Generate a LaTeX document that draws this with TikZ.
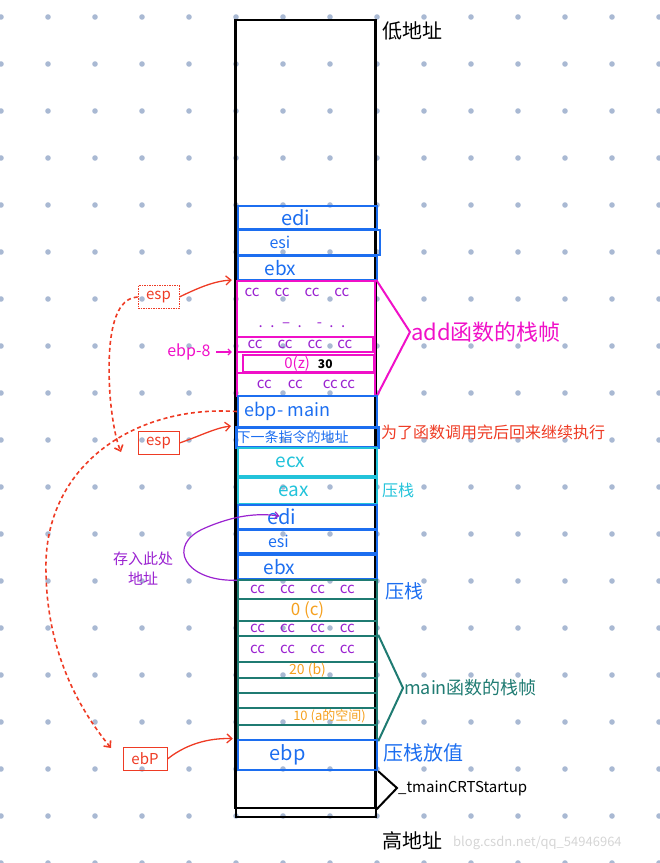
\documentclass[tikz,border=0pt]{standalone}
\usepackage{fontspec}
\setmainfont{Noto Sans CJK SC}
\usetikzlibrary{arrows.meta, calc}
\definecolor{dotgrid}{HTML}{A9B9D3}
\definecolor{regblue}{HTML}{1C6EF0}
\definecolor{addpink}{HTML}{F010C8}
\definecolor{ccpurple}{HTML}{9A22D0}
\definecolor{pushcyan}{HTML}{22C3DA}
\definecolor{mainteal}{HTML}{1F7B72}
\definecolor{valorange}{HTML}{F5A01E}
\definecolor{ptrred}{HTML}{EE3B24}
\definecolor{wmgray}{HTML}{D5D5D5}

\newcommand{\ccrow}{cc\hspace{15pt}cc\hspace{15pt}cc\hspace{15pt}cc\hspace*{10pt}}

\begin{document}
\begin{tikzpicture}[x=1pt, y=-1pt,
    fs/.style={font=\fontsize{#1}{#1}\selectfont},
    cell/.style={draw=regblue, text=regblue, line width=2.4pt, inner sep=0pt,
                 minimum width=139pt, fs=19, execute at end node={\hspace*{24pt}}},
    addrow/.style={draw=addpink, text=ccpurple, line width=2.4pt, inner sep=0pt, fs=15},
    mainrow/.style={draw=mainteal, text=ccpurple, line width=2.4pt, inner sep=0pt,
                    minimum width=139pt, fs=15},
    ptrbox/.style={draw=ptrred, text=ptrred, line width=0.9pt, inner sep=0pt,
                   minimum width=41pt, minimum height=23pt, fs=15},
    ptrarrow/.style={ptrred, line width=1.3pt, -{Straight Barb[length=5pt, width=9pt]},
                     shorten >=4pt},
    ptrdash/.style={ptrarrow, line width=1.6pt, dash pattern=on 4pt off 3pt},
    note/.style={anchor=west, inner sep=1pt}]
  \useasboundingbox (0,0) rectangle (660,863);

  % dot grid
  \foreach \i in {0,...,14}
    \foreach \j in {0,...,18}
      \fill[dotgrid] (1+47*\i, 17+47*\j) circle (2.8pt);

  % stack outline
  \node[draw, line width=2.4pt, inner sep=0pt, minimum width=140pt, minimum height=788pt] (stack) at (305.5,414) {};
  \node[draw, line width=2pt, inner sep=0pt, minimum width=140pt, minimum height=9pt] (base) at (305.5,812.5) {};
  \node[note, fs=20] (lowaddr) at (381,31) {低地址};
  \node[note, fs=20] (highaddr) at (381,841) {高地址};
  \node[note, fs=13, text=wmgray] (wmark) at (452,843) {blog.csdn.net/qq\_54946964};

  % saved registers of add
  \node[cell, minimum height=23pt, fs=20] (edi1) at (307.5,217.5) {edi};
  \node[cell, minimum height=25pt, minimum width=142pt, fs=16, execute at end node={\hspace*{34pt}}] (esi1) at (309,242.5) {esi};
  \node[cell, minimum height=24pt, execute at end node={\hspace*{30pt}}] (ebx1) at (307.5,268) {ebx};

  % add frame
  \node[addrow, minimum width=138pt, minimum height=115pt] (addfr) at (306,338.5) {};
  \node[text=ccpurple, fs=15] (addcc) at (302,292) {\ccrow};
  \node[text=ccpurple, fs=15] (adddots) at (302,325) {.\enspace.\enspace--\enspace.\enspace\enspace-\enspace.\enspace.};
  \node[addrow, minimum width=136pt, minimum height=15pt] (ebpeight) at (305,344.5) {\ccrow};
  \node[addrow, minimum width=131pt, minimum height=17pt] (zrow) at (308.5,363.5)
    {{\color{addpink}0(z)}\hspace{8pt}{\color{black}\bfseries\fontsize{12}{12}\selectfont 30}};
  \node[addrow, minimum width=138pt, minimum height=23pt] (addcc3) at (306,384.5)
    {cc\hspace{16pt}cc\hspace{20pt}cc\,cc};
  \node[note, fs=22, text=addpink] (addlbl) at (410,332) {add函数的栈帧};
  \draw[addpink, line width=2pt] (addfr.north east) -- (addlbl.west) -- (addfr.south east);
  \node[fs=16, text=addpink, anchor=east] (ebp8lbl) at (214,352) {ebp-8};
  \draw[addpink, line width=1.2pt, -{Straight Barb[length=3pt, width=6pt]}, shorten >=4pt, shorten <=2pt]
    (ebp8lbl.east) -- (ebp8lbl.east -| ebpeight.west);

  % return info
  \node[cell, minimum height=31pt, fs=18, execute at end node={\hspace*{16pt}}] (ebpmain) at (307.5,411.5) {ebp- main};
  \node[cell, minimum height=20pt, line width=3pt, fs=14, execute at end node={\hspace*{6pt}}] (nextins) at (307.5,437) {下一条指令的地址};
  \node[note, fs=16, text=ptrred] (whylbl) at (380,432) {为了函数调用完后回来继续执行};

  % pushed ecx eax
  \node[cell, draw=pushcyan, text=pushcyan, minimum height=28pt, execute at end node={\hspace*{10pt}}] (ecx) at (307.5,462) {ecx};
  \node[cell, draw=pushcyan, text=pushcyan, minimum height=26pt, execute at end node={\hspace*{4pt}}] (eax) at (307.5,491) {eax};
  \node[note, fs=16, text=pushcyan] (pushcx) at (381,490) {压栈};

  % saved registers of main
  \node[cell, minimum height=24pt, fs=20, execute at end node={\hspace*{28pt}}] (edi2) at (307.5,517) {edi};
  \node[cell, minimum height=23pt, fs=16, execute at end node={\hspace*{34pt}}] (esi2) at (307.5,541.5) {esi};
  \node[cell, minimum height=24pt, execute at end node={\hspace*{32pt}}] (ebx2) at (307.5,567) {ebx};
  \node[note, fs=19, text=regblue] (pushreg) at (384,591) {压栈};

  % main frame
  \node[mainrow, minimum height=19pt] (mrow1) at (307.5,589.5) {\ccrow};
  \node[mainrow, minimum height=22pt, text=valorange, fs=17] (mrow2) at (307.5,610) {0 (c)};
  \node[mainrow, minimum height=15pt] (mrow3) at (307.5,628.5) {\ccrow};
  \node[mainrow, minimum height=26pt] (mrow4) at (307.5,649) {\ccrow};
  \node[mainrow, minimum height=16pt, text=valorange, fs=14] (mrow5) at (307.5,670) {20 (b)};
  \node[mainrow, minimum height=15pt] (mrow6) at (307.5,685.5) {};
  \node[mainrow, minimum height=15pt] (mrow7) at (307.5,700.5) {};
  \node[mainrow, minimum height=17pt, text=valorange, fs=13] (mrow8) at (307.5,716.5) {\hspace*{44pt}10 (a的空间)};
  \node[mainrow, minimum height=15pt] (mrow9) at (307.5,732.5) {};
  \node[note, fs=18, text=mainteal] (mainlbl) at (403,688) {main函数的栈帧};
  \draw[mainteal, line width=2pt] (mrow4.north east) -- (mainlbl.west) -- (mrow9.south east);

  % frame pointer slot
  \node[cell, minimum height=30pt, fs=20, execute at end node={\hspace*{16pt}}] (ebp) at (307.5,755) {ebp};
  \node[note, fs=20, text=regblue] (pushval) at (382,753) {压栈放值};
  \node[note, fs=15] (crtlbl) at (397,788) {\_tmainCRTStartup};
  \draw[line width=2pt] (ebp.south east) -- (crtlbl.west) -- (stack.south east);

  % pointers
  \node[ptrbox, dash pattern=on 1.5pt off 1pt, line width=0.7pt] (esp1) at (158.5,297) {esp};
  \node[ptrbox] (esp2) at (158.5,443) {esp};
  \node[ptrbox, minimum width=44pt] (ebpbox) at (145,759) {ebP};
  \coordinate (espdrop) at (121,452);
  \coordinate (ebpdrop) at (111,748);
  \draw[ptrarrow] (esp1.east) .. controls (200,287) and (215,281) .. (addfr.north west);
  \draw[ptrarrow] (esp2.east) .. controls (200,436) and (215,428) .. (nextins.north west);
  \draw[ptrarrow] (ebpbox.east) .. controls (190,741) and (215,738) .. (ebp.north west);
  \draw[ptrdash, shorten >=0pt] (esp1.west) .. controls (110,298) and (107,350) .. (110,395)
    .. controls (112,420) and (116,440) .. (espdrop);
  \draw[ptrdash, shorten >=0pt] (ebpmain.west) .. controls (140,405) and (50,460) .. (46,560)
    .. controls (44,650) and (80,710) .. (ebpdrop);

  % saved address note
  \node[fs=15, text=ccpurple, align=center] (savenote) at (143,569) {存入此处\\[5pt]地址};
  \draw[ccpurple, line width=1.2pt, -{Straight Barb[length=4pt, width=7pt]}]
    (ebx2.south west) .. controls (185,582) and (165,545) .. (205,528)
    .. controls (235,515) and (258,513) .. ($(edi2.center)+(-28,-1)$);
\end{tikzpicture}
\end{document}
